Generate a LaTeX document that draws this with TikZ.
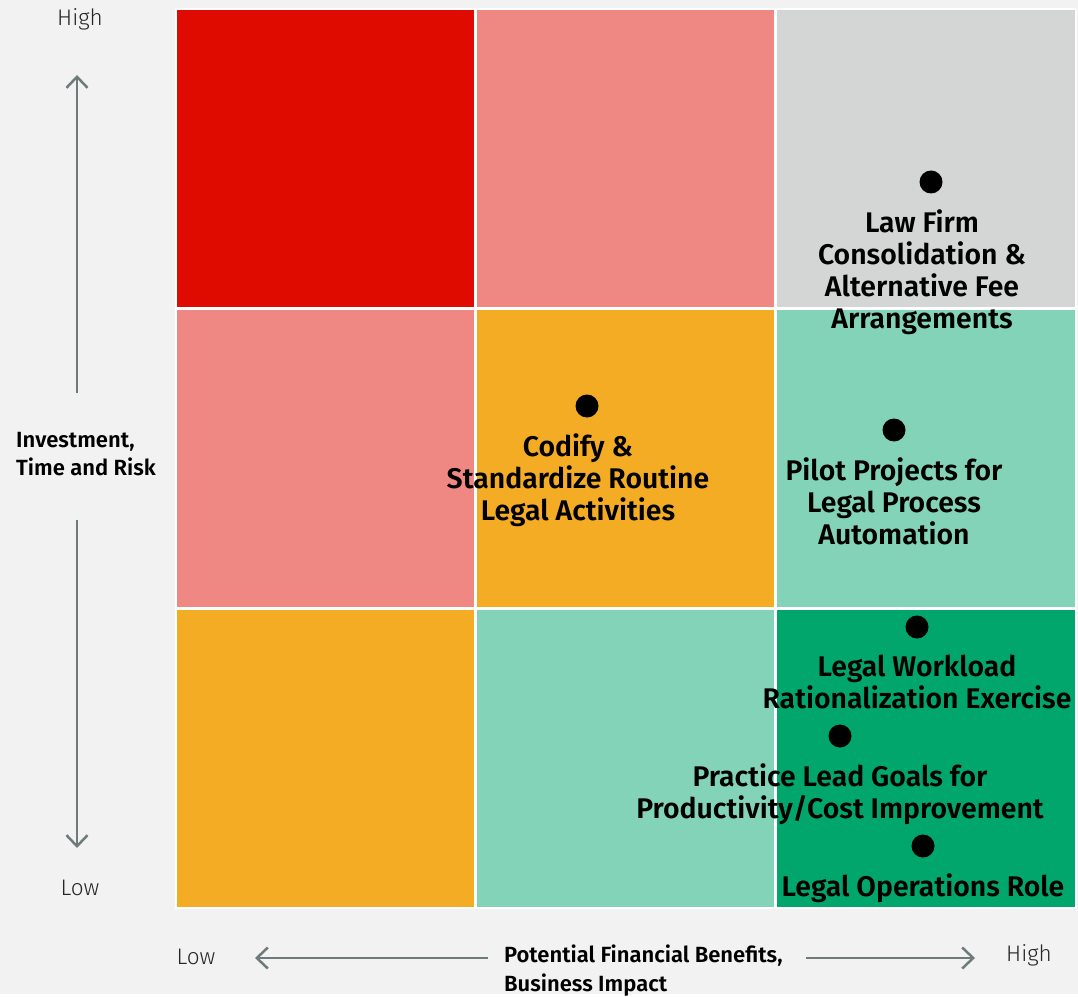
\documentclass[tikz,border=0pt]{standalone}
\usepackage{fontspec}
\setmainfont{Fira Sans}[BoldFont={Fira Sans SemiBold}]
\newfontfamily\thinfont{Fira Sans Light}
\usetikzlibrary{positioning,arrows.meta}

\definecolor{bgcol}{HTML}{F2F2F2}
\definecolor{hotred}{HTML}{E00B00}
\definecolor{salmon}{HTML}{EF8782}
\definecolor{paleg}{HTML}{D4D6D5}
\definecolor{amber}{HTML}{F5AC25}
\definecolor{mint}{HTML}{82D3B7}
\definecolor{jade}{HTML}{00A66C}
\definecolor{axisgray}{HTML}{6F7B7B}

\begin{document}
\begin{tikzpicture}[x=1pt,y=-1pt,every node/.style={inner sep=0pt},
		dot/.style={circle,fill=black,minimum size=23pt,label distance=0pt},
		item/.style={font=\fontsize{28.4}{32}\selectfont\bfseries,align=center,yshift=-16pt},
		endlab/.style={font=\fontsize{22.5}{24}\selectfont\thinfont,text=black!85},
		axlab/.style={font=\fontsize{22}{28.5}\selectfont\bfseries,align=left},
		axarrow/.style={draw=axisgray,line width=2.5pt,-{Straight Barb[length=11pt,width=21pt,line width=2.5pt]}}]
			%background and grid
			\fill[bgcol] (0,0) rectangle (1078,994);
			\fill[white] (175,8) rectangle (1077,909);
			\fill[hotred] (177,10) rectangle (474,307);
			\fill[salmon] (477,10) rectangle (774,307);
			\fill[paleg] (777,10) rectangle (1075,307);
			\fill[salmon] (177,310) rectangle (474,607);
			\fill[amber] (477,310) rectangle (774,607);
			\fill[mint] (777,310) rectangle (1075,607);
			\fill[amber] (177,610) rectangle (474,907);
			\fill[mint] (477,610) rectangle (774,907);
			\fill[jade] (777,610) rectangle (1075,907);

			%vertical axis
			\node[endlab] (yhigh) at (80,19) {High};
			\node[endlab] (ylow) at (80,888) {Low};
			\node[axlab,anchor=west] (ytitle) at (16,454) {Investment,\\Time and Risk};
			\coordinate (yup0) at (77,393);
			\coordinate (yup1) at (77,75);
			\coordinate (ydn0) at (77,520);
			\coordinate (ydn1) at (77,848);
			\draw[axarrow] (yup0) -- (yup1);
			\draw[axarrow] (ydn0) -- (ydn1);

			%horizontal axis
			\node[endlab] (xlow) at (196,957) {Low};
			\node[endlab] (xhigh) at (1029,955) {High};
			\node[axlab,anchor=north west] (xtitle) at (504,945) {Potential Financial Benefits,\\Business Impact};
			\coordinate (xl0) at (488,958);
			\coordinate (xl1) at (255,958);
			\coordinate (xr0) at (806,958);
			\coordinate (xr1) at (975,958);
			\draw[axarrow] (xl0) -- (xl1);
			\draw[axarrow] (xr0) -- (xr1);

			%initiatives
			\node[dot,label={[item,xshift=-9pt]below:{Law Firm\\Consolidation \&\\Alternative Fee\\Arrangements}}] (lawfirm) at (931,182) {};
			\node[dot,label={[item,xshift=-9pt]below:{Codify \&\\Standardize Routine\\Legal Activities}}] (codify) at (587,406) {};
			\node[dot,label={[item]below:{Pilot Projects for\\Legal Process\\Automation}}] (pilot) at (894,430) {};
			\node[dot,label={[item]below:{Legal Workload\\Rationalization Exercise}}] (workload) at (917,627) {};
			\node[dot,label={[item]below:{Practice Lead Goals for\\Productivity/Cost Improvement}}] (practice) at (840,736) {};
			\node[dot,label={[item]below:{Legal Operations Role}}] (opsrole) at (923,846) {};
		\end{tikzpicture}
\end{document}
